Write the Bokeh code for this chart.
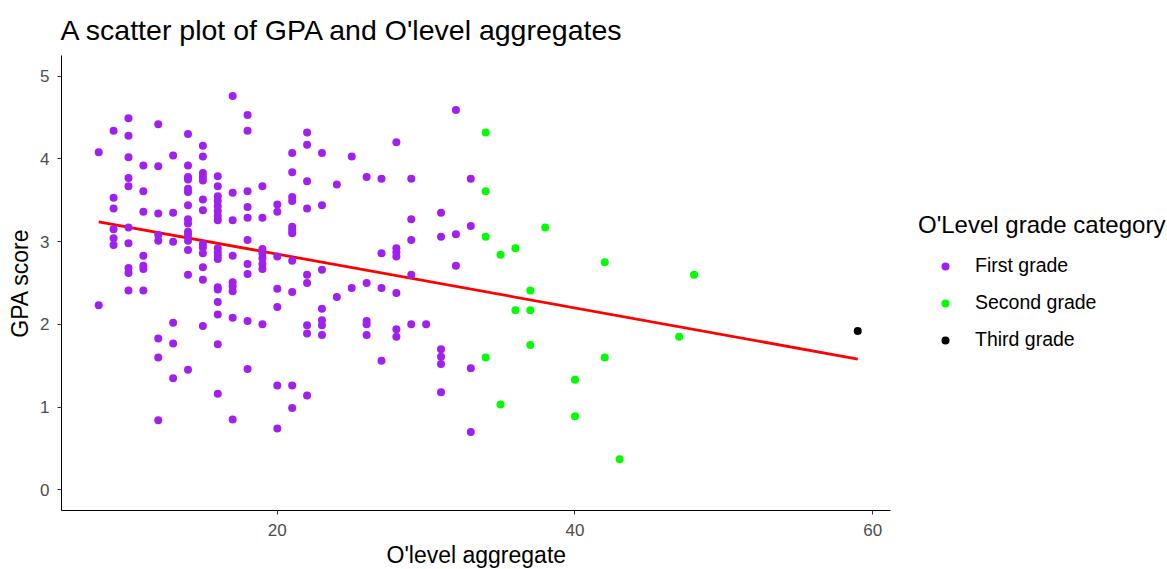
from bokeh.plotting import figure
from bokeh.models import Range1d, FixedTicker, Legend, LegendItem, ColumnDataSource, Title
from bokeh.embed import file_html
from bokeh.resources import INLINE

# ---- data ----
# O'level aggregate values and the GPA scores observed at each aggregate
first_agg = [8, 9, 10, 11, 12, 13, 14, 15, 16, 17, 18, 19, 20, 21, 22, 23, 24, 25,
             26, 27, 28, 29, 30, 31, 32, 33]
first_gpa = [
    [4.08, 2.23],
    [4.34, 3.53, 3.40, 3.15, 3.04, 2.96],
    [4.49, 4.28, 4.02, 3.77, 3.67, 3.17, 2.98, 2.68, 2.62, 2.41],
    [3.92, 3.61, 3.36, 2.83, 2.71, 2.67, 2.41],
    [4.42, 3.91, 3.34, 3.08, 3.01, 1.83, 1.60, 0.84],
    [4.04, 3.35, 3.00, 2.02, 1.77, 1.35],
    [4.30, 3.92, 3.78, 3.75, 3.64, 3.60, 3.44, 3.27, 3.22, 3.12, 3.08, 3.01, 2.90, 2.60, 1.45],
    [4.16, 4.03, 3.83, 3.78, 3.74, 3.51, 3.38, 2.97, 2.93, 2.86, 2.69, 2.54, 1.98],
    [3.79, 3.67, 3.55, 3.49, 3.43, 3.37, 3.31, 3.26, 2.92, 2.87, 2.83, 2.79, 2.45, 2.42,
     2.27, 2.12, 1.76, 1.16],
    [4.76, 3.59, 3.26, 2.83, 2.51, 2.46, 2.40, 2.08, 0.85],
    [4.53, 4.34, 3.61, 3.42, 3.29, 3.02, 2.73, 2.61, 2.04, 1.46],
    [3.67, 3.29, 2.91, 2.86, 2.80, 2.73, 2.67, 2.00],
    [3.45, 3.36, 2.82, 2.43, 2.21, 1.26, 0.74],
    [4.07, 3.84, 3.54, 3.49, 3.18, 3.14, 3.10, 2.77, 2.39, 1.26, 0.99],
    [4.32, 4.17, 3.73, 3.40, 2.60, 2.50, 1.99, 1.89, 1.14],
    [4.07, 3.44, 2.66, 2.19, 2.05, 1.99, 1.87],
    [3.69, 2.33],
    [4.03, 2.44],
    [3.78, 2.50, 2.04, 2.00, 1.87],
    [3.76, 2.86, 2.44, 1.56],
    [4.20, 2.92, 2.87, 2.82, 2.38, 1.94, 1.85],
    [3.76, 3.27, 3.02, 2.60, 2.00],
    [2.00],
    [3.35, 3.06, 1.70, 1.61, 1.52, 1.18],
    [4.59, 3.09, 2.71],
    [3.76, 3.19, 1.47, 0.70],
]
second_agg = [34, 35, 36, 37, 38, 40, 42, 43, 47, 48]
second_gpa = [
    [4.32, 3.61, 3.06, 1.60],
    [2.84, 1.03],
    [2.92, 2.17],
    [2.41, 2.17, 1.75],
    [3.17],
    [1.33, 0.89],
    [2.75, 1.60],
    [0.37],
    [1.85],
    [2.60],
]
third_agg = [59]
third_gpa = [[1.92]]

# fitted regression line (end points)
fit_x = [8, 59]
fit_y = [3.24, 1.58]

categories = ["First grade", "Second grade", "Third grade"]
colors = ["#A020F0", "#00FF00", "#000000"]

x_ticks = [20, 40, 60]
y_ticks = [0, 1, 2, 3, 4, 5]
x_axis_span = (5.5, 61.2)   # visible panel extent of the x axis


def expand(aggs, gpas):
    xs, ys = [], []
    for a, g in zip(aggs, gpas):
        for v in g:
            xs.append(a)
            ys.append(v)
    return xs, ys


FONT = "Liberation Sans"
W, H = 1167, 569
LEFT = 61
PANEL_W = 829  # pixel width of the plotted panel
x_end = x_axis_span[0] + (x_axis_span[1] - x_axis_span[0]) * (W - LEFT) / PANEL_W

p = figure(width=W, height=H,
           x_range=Range1d(x_axis_span[0], x_end), y_range=Range1d(-0.25, 5.25),
           output_backend="svg", toolbar_location=None,
           min_border_left=LEFT, min_border_right=0,
           min_border_top=55, min_border_bottom=59,
           title="A scatter plot of GPA and O'level aggregates")

p.title.text_font = FONT
p.title.text_font_size = "28.5px"
p.title.text_font_style = "normal"
p.title.text_color = "#000000"
p.title.align = "left"
p.title.offset = -1
p.title.standoff = 19

p.outline_line_color = None
p.xgrid.visible = False
p.ygrid.visible = False
p.background_fill_color = "white"
p.border_fill_color = "white"

for ax in (p.xaxis[0], p.yaxis[0]):
    ax.axis_line_color = "#000000"
    ax.axis_line_width = 1
    ax.major_tick_line_color = "#333333"
    ax.major_tick_out = 4
    ax.major_tick_in = 0
    ax.minor_tick_line_color = None
    ax.major_label_text_font = FONT
    ax.major_label_text_font_size = "17px"
    ax.major_label_text_color = "#4D4D4D"
    ax.axis_label_text_font = FONT
    ax.axis_label_text_font_size = "23px"
    ax.axis_label_text_font_style = "normal"
    ax.axis_label_text_color = "#000000"

p.xaxis.bounds = x_axis_span
p.xaxis.major_label_standoff = 9
p.yaxis.major_label_standoff = 8
p.yaxis.axis_label_standoff = 4

p.xaxis.ticker = FixedTicker(ticks=x_ticks)
p.yaxis.ticker = FixedTicker(ticks=y_ticks)
p.yaxis.axis_label = "GPA score"

# x-axis title, centred under the visible panel
x_title = Title(text="O'level aggregate", align="left", offset=325, standoff=2,
                text_font=FONT, text_font_size="23px", text_font_style="normal",
                text_color="#000000")
p.add_layout(x_title, "below")

# regression line
p.line(fit_x, fit_y, line_color="#FF0000", line_width=2.8)

renderers = []
for (aggs, gpas), col in zip([(first_agg, first_gpa), (second_agg, second_gpa),
                               (third_agg, third_gpa)], colors):
    xs, ys = expand(aggs, gpas)
    src = ColumnDataSource(dict(x=xs, y=ys))
    r = p.scatter("x", "y", source=src, size=8, fill_color=col, line_color=col,
                  line_width=0)
    renderers.append(r)

legend = Legend(items=[LegendItem(label=c, renderers=[r]) for c, r in zip(categories, renderers)],
                location=(857, 159), orientation="vertical",
                title="O'Level grade category")
legend.title_text_font = FONT
legend.title_text_font_size = "24px"
legend.title_text_font_style = "normal"
legend.title_text_color = "#000000"
legend.title_standoff = 15
legend.label_text_font = FONT
legend.label_text_font_size = "19.5px"
legend.label_text_color = "#000000"
legend.glyph_width = 54
legend.glyph_height = 20
legend.label_height = 20
legend.label_standoff = 3
legend.spacing = 14
legend.padding = 0
legend.margin = 0
legend.border_line_color = None
legend.background_fill_alpha = 0
p.add_layout(legend, "center")

open("out.html", "w").write(file_html(p, INLINE))
